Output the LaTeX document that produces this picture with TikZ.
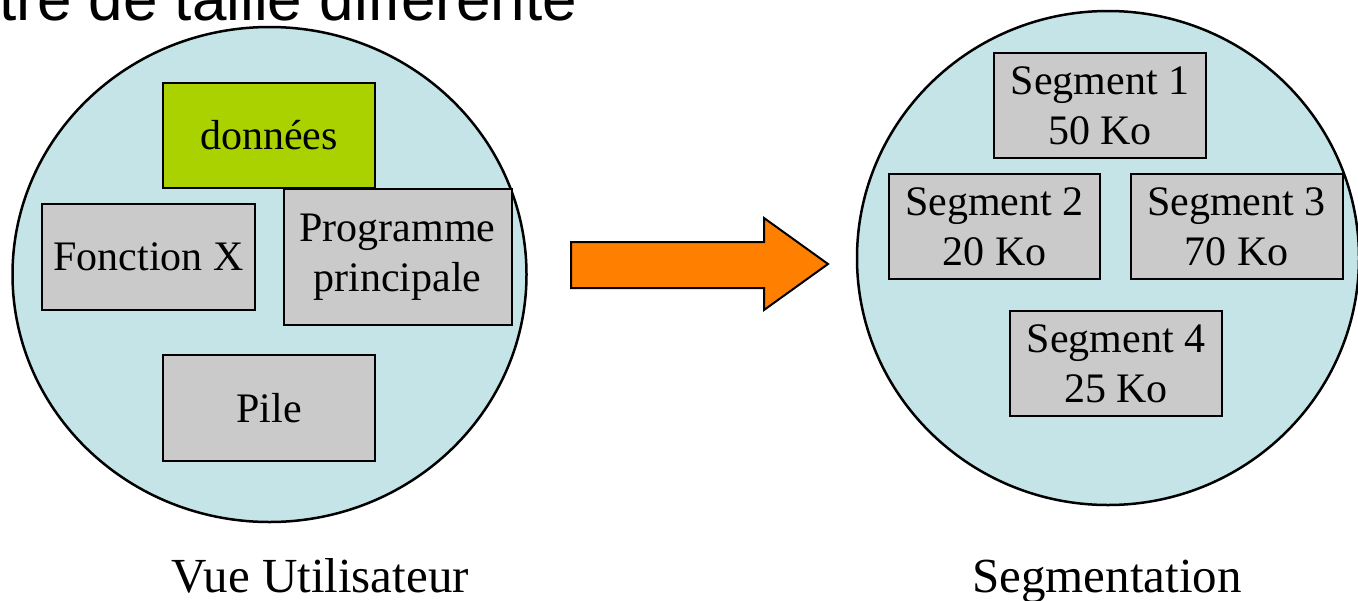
\documentclass[tikz,border=0pt]{standalone}
\usepackage{fontspec}
\setmainfont{Liberation Serif}
\newfontfamily\arialfont{Liberation Sans}
\usetikzlibrary{shapes.geometric}
\definecolor{circfill}{RGB}{196,228,232}
\definecolor{boxgrey}{RGB}{202,202,202}
\definecolor{datagreen}{RGB}{169,210,0}
\definecolor{arroworange}{RGB}{255,128,0}
\begin{document}
\begin{tikzpicture}[x=1pt,y=-1pt,
  zone/.style={draw, ellipse, line width=2.5pt, fill=circfill, inner sep=0pt},
  seg/.style={draw, line width=2pt, fill=boxgrey, inner sep=0pt, align=center,
    font=\fontsize{42}{50}\selectfont},
  lbl/.style={font=\fontsize{49}{58}\selectfont, inner sep=0pt, anchor=base},
  bigarrow/.style={draw, line width=2pt, fill=arroworange, line join=miter}]
\useasboundingbox (0,0) rectangle (1358,600);
\clip (0,0) rectangle (1358,600);
% title (cut off at the top, as in the reference)
\node[anchor=base west, inner sep=0pt, font=\arialfont\fontsize{62}{74}\selectfont] (title) at (-1,20) {tre de taille différente};
% user view
\node[zone, minimum width=514pt, minimum height=495pt] (user) at (269.5,274.5) {};
\node[seg, fill=datagreen, minimum width=212pt, minimum height=105pt] (data) at (269,135.5) {données};
\node[seg, minimum width=213pt, minimum height=106pt] (fonc) at (148.5,257) {Fonction X};
\node[seg, minimum width=228pt, minimum height=136pt] (prog) at (397.5,257) {Programme\\principale};
\node[seg, minimum width=212pt, minimum height=106pt] (pile) at (269,408) {Pile};
% arrow
\draw[bigarrow] (571,242) -- (764,242) -- (764,218) -- (828,264) -- (764,310) -- (764,288) -- (571,288) -- cycle;
% segmentation
\node[zone, minimum width=502pt, minimum height=494pt] (segz) at (1108,258) {};
\node[seg, minimum width=212pt, minimum height=105pt] (s1) at (1100,105.5) {Segment 1\\50 Ko};
\node[seg, minimum width=211pt, minimum height=105pt] (s2) at (994.5,226.5) {Segment 2\\20 Ko};
\node[seg, minimum width=212pt, minimum height=105pt] (s3) at (1236.5,226.5) {Segment 3\\70 Ko};
\node[seg, minimum width=212pt, minimum height=105pt] (s4) at (1116,363.5) {Segment 4\\25 Ko};
% labels
\node[lbl] (luser) at (320,592) {Vue Utilisateur};
\node[lbl] (lseg) at (1107,592) {Segmentation};
\end{tikzpicture}
\end{document}
